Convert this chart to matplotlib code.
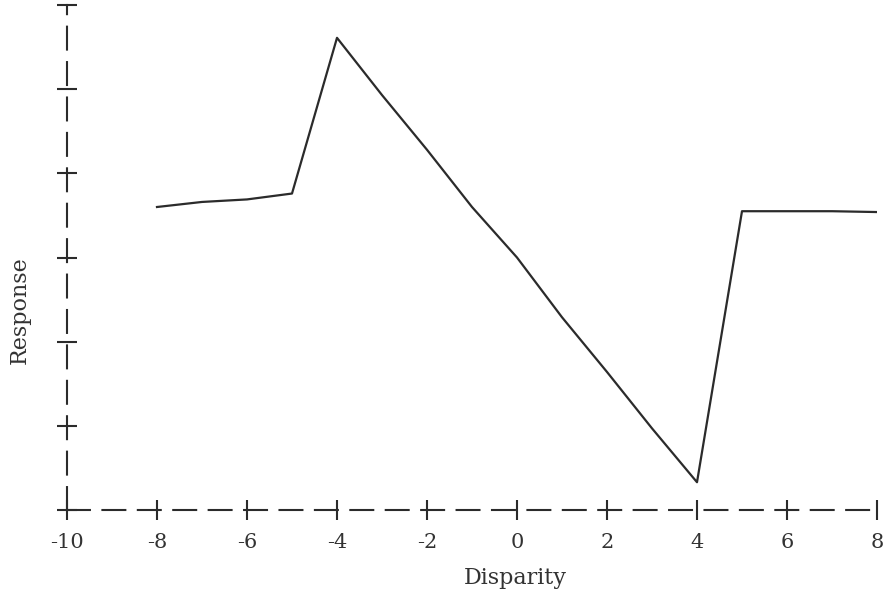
import numpy as np
import matplotlib.pyplot as plt

# disparity vs response
disparity = [-8, -7, -6, -5, -4, -3, -2, -1, 0, 1, 2, 3, 4, 5, 6, 7, 8]
response = [3.60, 3.66, 3.69, 3.76, 5.61, 4.93, 4.28, 3.60, 3.00,
            2.29, 1.64, 0.97, 0.33, 3.55, 3.55, 3.55, 3.54]

xticks = [-10, -8, -6, -4, -2, 0, 2, 4, 6, 8]
yticks = [0, 1, 2, 3, 4, 5, 6]

plt.rcParams['font.family'] = ['DejaVu Serif']

fig = plt.figure(figsize=(8.85, 5.97), dpi=100)
ax = fig.add_axes([67 / 885, 87 / 597, 810 / 885, 505 / 597])

ink = '#2b2b2b'
ax.plot(disparity, response, color=ink, linewidth=1.6)

ax.set_xlim(-10, 8)
ax.set_ylim(0, 6)

for side in ['top', 'right']:
    ax.spines[side].set_visible(False)
for side in ['left', 'bottom']:
    ax.spines[side].set_linestyle((0, (11, 6)))
    ax.spines[side].set_linewidth(1.5)
    ax.spines[side].set_color(ink)
    ax.spines[side].set_clip_on(False)

ax.set_xticks(xticks)
ax.set_xticklabels([str(t) for t in xticks], fontsize=15, color='#333333')
ax.set_yticks(yticks)
ax.set_yticklabels([])
ax.tick_params(direction='inout', length=15, width=1.5, color=ink, pad=9)
for t in ax.xaxis.get_major_ticks() + ax.yaxis.get_major_ticks():
    t.tick1line.set_clip_on(False)

ax.set_xlabel('Disparity', fontsize=16, color='#333333')
ax.xaxis.set_label_coords(0.553, -0.113)
ax.set_ylabel('Response', fontsize=16, color='#333333')
ax.yaxis.set_label_coords(-0.045, 0.395)

fig.savefig('out.png', dpi=100)
